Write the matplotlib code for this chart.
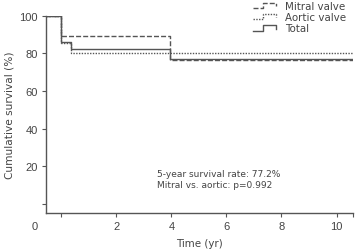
import matplotlib
matplotlib.use("Agg")
import matplotlib.pyplot as plt
from matplotlib.lines import Line2D
from matplotlib.legend_handler import HandlerLine2D

# Kaplan-Meier steps (time in years, survival in %)
mitral_t = [-0.55, 0.0, 3.95, 10.6]
mitral_s = [100, 88.9, 76.2, 76.2]

aortic_t = [-0.55, 0.0, 0.35, 10.6]
aortic_s = [100, 85.5, 80.2, 80.2]

total_t = [-0.55, 0.0, 0.35, 3.95, 10.6]
total_s = [100, 85.9, 82.5, 77.2, 77.2]

series_names = ["Mitral valve", "Aortic valve", "Total"]
x_ticks = [0, 2, 4, 6, 8, 10]
y_ticks = [0, 20, 40, 60, 80, 100]

line_col = "#555555"
text_col = "#444444"
tick_font = ["Liberation Sans", "DejaVu Sans"]
plt.rcParams["font.family"] = ["DejaVu Sans"]


class StepHandler(HandlerLine2D):
    # draws a small step icon instead of a straight line
    def create_artists(self, legend, orig_handle, xdescent, ydescent,
                       width, height, fontsize, trans):
        xs = [0, 0.42, 0.42, 0.97, 0.97]
        ys = [0.1, 0.1, 0.9, 0.9, 0.4]
        line = Line2D([-xdescent + x * width for x in xs],
                      [-ydescent + y * height for y in ys])
        self.update_prop(line, orig_handle, legend)
        line.set_transform(trans)
        return [line]


fig = plt.figure(figsize=(3.57, 2.51), dpi=100)
ax = fig.add_axes([0.129, 0.147, 0.86, 0.787])

styles = [(mitral_t, mitral_s, (0, (3.6, 1.5))),
          (aortic_t, aortic_s, (0, (1, 1))),
          (total_t, total_s, "-")]
handles = []
for (t, s, ls), name in zip(styles, series_names):
    h, = ax.step(t, s, where="post", color=line_col, lw=1.0, ls=ls, label=name)
    handles.append(h)

ax.set_xlim(-0.55, 10.6)
ax.set_ylim(-4.8, 100)
for side in ["top", "right"]:
    ax.spines[side].set_visible(False)
for side in ["left", "bottom"]:
    ax.spines[side].set_color(line_col)
    ax.spines[side].set_linewidth(1.0)

ax.set_xticks(x_ticks)
ax.set_xticklabels([""] + [str(v) for v in x_ticks[1:]])
ax.set_xticks([10.6], minor=True)
ax.set_yticks(y_ticks)
ax.set_yticklabels([""] + [str(v) for v in y_ticks[1:]])
ax.tick_params(which="both", direction="out", length=3, width=0.8,
               color=line_col, labelcolor=text_col, labelsize=8, pad=3)
ax.tick_params(axis="x", pad=3)
for lab in ax.get_xticklabels() + ax.get_yticklabels():
    lab.set_family(tick_font)
fig.text(35 / 357, 1 - 227.5 / 251, "0", ha="center", va="center",
         fontsize=8, color=text_col, family=tick_font)

ax.set_xlabel("Time (yr)", fontsize=7.4, color=text_col, labelpad=4.5)
ax.set_ylabel("Cumulative survival (%)", fontsize=7.6, color=text_col,
              labelpad=3.5)

ax.text(0.362, 0.222, "5-year survival rate: 77.2%\nMitral vs. aortic: p=0.992",
        transform=ax.transAxes, fontsize=6.5, color=text_col, va="top",
        linespacing=1.2)

leg = fig.legend(handles=handles, loc="upper left",
                 bbox_to_anchor=(253 / 357, 1 - 2.0 / 251),
                 frameon=False, fontsize=7.4, labelcolor=text_col,
                 borderpad=0, borderaxespad=0,
                 handlelength=2.3, handleheight=0.65, handletextpad=0.85,
                 labelspacing=0.12, handler_map={Line2D: StepHandler()})

fig.savefig("out.png", dpi=100)
